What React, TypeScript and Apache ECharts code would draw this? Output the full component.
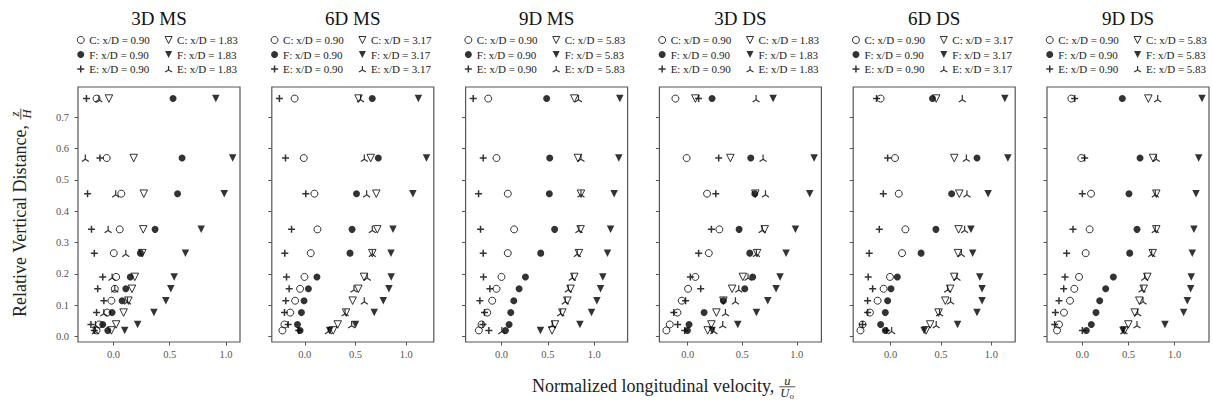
import React, { useEffect, useRef } from 'react';
import * as echarts from 'echarts';

const FONT = "'Liberation Serif', 'Times New Roman', Times, serif";

// Relative vertical distance z/H of each measurement row
const Z_H = [0.019, 0.038, 0.076, 0.114, 0.152, 0.19, 0.266, 0.342, 0.456, 0.57, 0.76];

const titles = ['3D MS', '6D MS', '9D MS', '3D DS', '6D DS', '9D DS'];
const nearStation = ['0.90', '0.90', '0.90', '0.90', '0.90', '0.90'];
const farStation = ['1.83', '3.17', '5.83', '1.83', '3.17', '5.83'];

const xTickValues = [0, 0.5, 1.0];
const yTickValues = [0, 0.1, 0.2, 0.3, 0.4, 0.5, 0.6, 0.7];
const xMin = [-0.315, -0.325, -0.387, -0.26, -0.372, -0.383];
const xMax = [1.125, 1.272, 1.36, 1.226, 1.236, 1.372];
const yMin = -0.018;
const yMax = 0.797;

// 3D MS
const ms3C_near = [-0.15, -0.127, -0.056, -0.018, 0.012, 0.024, 0.003, 0.056, 0.07, -0.06, -0.15];
const ms3F_near = [-0.05, -0.095, -0.012, 0.077, 0.11, 0.15, 0.24, 0.37, 0.57, 0.61, 0.53];
const ms3E_near = [-0.17, -0.2, -0.15, -0.085, -0.14, -0.095, -0.17, -0.195, -0.23, -0.12, -0.24];
const ms3C_far = [-0.018, 0.024, 0.09, 0.133, 0.165, 0.19, 0.257, 0.265, 0.27, 0.18, -0.04];
const ms3F_far = [0.1, 0.215, 0.36, 0.466, 0.51, 0.54, 0.64, 0.78, 0.985, 1.06, 0.91];
const ms3E_far = [-0.16, -0.16, -0.085, 0.125, 0.012, -0.012, 0.11, -0.047, 0.02, -0.25, -0.13];

// 6D MS
const ms6C_near = [-0.22, -0.2, -0.144, -0.095, -0.046, -0.003, 0.059, 0.125, 0.095, -0.01, -0.1];
const ms6F_near = [-0.046, -0.072, -0.033, -0.007, 0.036, 0.12, 0.446, 0.466, 0.51, 0.725, 0.665];
const ms6E_near = [-0.06, -0.164, -0.2, -0.187, -0.154, -0.18, -0.197, -0.13, 0.01, -0.19, -0.25];
const ms6C_far = [0.28, 0.325, 0.407, 0.472, 0.528, 0.584, 0.666, 0.715, 0.705, 0.65, 0.53];
const ms6F_far = [0.246, 0.5, 0.685, 0.774, 0.83, 0.852, 0.85, 0.87, 1.066, 1.2, 1.12];
const ms6E_far = [0.233, 0.462, 0.397, 0.587, 0.485, 0.616, 0.666, 0.666, 0.61, 0.587, 0.55];

// 9D MS
const ms9C_near = [-0.244, -0.215, -0.154, -0.1, -0.054, 0, 0.068, 0.136, 0.068, -0.054, -0.143];
const ms9F_near = [0.043, 0.082, 0.1, 0.133, 0.19, 0.258, 0.423, 0.573, 0.516, 0.52, 0.487];
const ms9E_near = [-0.136, -0.2, -0.183, -0.233, -0.125, -0.194, -0.197, -0.226, -0.247, -0.197, -0.305];
const ms9C_far = [0.545, 0.577, 0.656, 0.71, 0.745, 0.785, 0.835, 0.853, 0.857, 0.824, 0.785];
const ms9F_far = [0.42, 0.846, 0.971, 1.029, 1.068, 1.093, 1.143, 1.176, 1.215, 1.265, 1.276];
const ms9E_far = [0.004, 0.548, 0.638, 0.688, 0.72, 0.763, 0.817, 0.835, 0.857, 0.857, 0.83];

// 3D DS
const ds3C_near = [-0.196, -0.165, -0.095, -0.055, 0.003, 0.07, 0.193, 0.29, 0.177, -0.01, -0.113];
const ds3F_near = [-0.003, 0.012, 0.15, 0.327, 0.523, 0.596, 0.569, 0.471, 0.615, 0.578, 0.223];
const ds3E_near = [-0.028, -0.092, -0.128, -0.02, 0.119, 0.024, 0.1, 0.217, 0.257, 0.284, 0.1];
const ds3C_far = [0.183, 0.217, 0.263, 0.327, 0.407, 0.505, 0.636, 0.706, 0.62, 0.391, 0.07];
const ds3F_far = [0.223, 0.459, 0.63, 0.734, 0.81, 0.847, 0.902, 0.988, 1.119, 1.159, 0.783];
const ds3E_far = [0.24, 0.321, 0.346, 0.437, 0.468, 0.553, 0.63, 0.682, 0.713, 0.691, 0.627];

// 6D DS
const ds6C_near = [-0.3, -0.279, -0.206, -0.13, -0.07, -0.007, 0.113, 0.146, 0.08, 0.043, -0.1];
const ds6F_near = [-0.053, -0.1, -0.053, -0.03, 0.003, 0.066, 0.302, 0.449, 0.605, 0.857, 0.415];
const ds6E_near = [-0.04, -0.279, -0.229, -0.229, -0.179, -0.223, -0.213, -0.113, -0.073, -0.03, -0.14];
const ds6C_far = [0.352, 0.392, 0.475, 0.542, 0.591, 0.631, 0.668, 0.674, 0.681, 0.631, 0.452];
const ds6F_far = [0.332, 0.664, 0.857, 0.907, 0.907, 0.884, 0.814, 0.797, 0.967, 1.163, 1.133];
const ds6E_far = [0.01, 0.452, 0.485, 0.595, 0.565, 0.658, 0.701, 0.734, 0.757, 0.751, 0.711];

// 9D DS
const ds9C_near = [-0.274, -0.253, -0.199, -0.134, -0.087, -0.036, 0.036, 0.079, 0.094, -0.011, -0.119];
const ds9F_near = [0.043, 0.097, 0.148, 0.188, 0.253, 0.336, 0.513, 0.592, 0.505, 0.625, 0.433];
const ds9E_near = [0, -0.3, -0.292, -0.253, -0.202, -0.188, -0.17, -0.101, 0, 0.025, -0.083];
const ds9C_far = [0.458, 0.498, 0.567, 0.617, 0.664, 0.704, 0.762, 0.801, 0.801, 0.765, 0.715];
const ds9F_far = [0.44, 0.895, 1.097, 1.137, 1.173, 1.18, 1.191, 1.209, 1.231, 1.26, 1.296];
const ds9E_far = [0.45, 0.592, 0.599, 0.657, 0.646, 0.675, 0.751, 0.79, 0.79, 0.801, 0.816];

const panelData = [
  [ms3C_near, ms3F_near, ms3E_near, ms3C_far, ms3F_far, ms3E_far],
  [ms6C_near, ms6F_near, ms6E_near, ms6C_far, ms6F_far, ms6E_far],
  [ms9C_near, ms9F_near, ms9E_near, ms9C_far, ms9F_far, ms9E_far],
  [ds3C_near, ds3F_near, ds3E_near, ds3C_far, ds3F_far, ds3E_far],
  [ds6C_near, ds6F_near, ds6E_near, ds6C_far, ds6F_far, ds6E_far],
  [ds9C_near, ds9F_near, ds9E_near, ds9C_far, ds9F_far, ds9E_far],
];

const PLUS = 'path://M-1,0 L1,0 M0,-1 L0,1';
const TRI_UP = 'path://M0,0 L0,-1 M0,0 L-0.866,0.5 M0,0 L0.866,0.5';
const TRI_DOWN = 'path://M-1,-1 L1,-1 L0,1 Z';
const CLEAR = 'rgba(0,0,0,0)';

const kindStyles = [
  { symbol: 'circle', symbolSize: 7, itemStyle: { color: CLEAR, borderColor: '#000', borderWidth: 1 } },
  { symbol: 'circle', symbolSize: 7, itemStyle: { color: '#000', borderColor: '#000', borderWidth: 0 } },
  { symbol: PLUS, symbolSize: 7, itemStyle: { color: CLEAR, borderColor: '#000', borderWidth: 1.5 } },
  { symbol: TRI_DOWN, symbolSize: 7.5, itemStyle: { color: CLEAR, borderColor: '#000', borderWidth: 1 } },
  { symbol: TRI_DOWN, symbolSize: 7.5, itemStyle: { color: '#000', borderColor: '#000', borderWidth: 0 } },
  { symbol: TRI_UP, symbolSize: 7, itemStyle: { color: CLEAR, borderColor: '#000', borderWidth: 1.2 } },
];

const LETTERS = ['C', 'F', 'E', 'C', 'F', 'E'];

function seriesName(panel: number, kind: number) {
  const st = kind < 3 ? nearStation[panel] : farStation[panel];
  return `${LETTERS[kind]}: x/D = ${st}`;
}

function measure(text: string, font: string) {
  const c = document.createElement('canvas').getContext('2d');
  if (!c) return text.length * 8;
  c.font = font;
  return c.measureText(text).width;
}

function fraction(x0: number, num: string, den: string, sub: string | null, col: string) {
  const fs = 12.5;
  const denW = measure(den, `italic ${fs}px 'Liberation Serif'`) + (sub ? 5 : 0);
  const barW = Math.max(denW, 8) + 2;
  const kids: any[] = [
    {
      type: 'line',
      shape: { x1: x0, y1: 0.8, x2: x0 + barW, y2: 0.8 },
      style: { stroke: col, lineWidth: 0.8 },
      silent: true,
    },
    {
      type: 'text',
      x: x0 + barW / 2,
      y: -4.8,
      style: { text: num, fontSize: fs, fontFamily: FONT, fontStyle: 'italic', fill: col, align: 'center', verticalAlign: 'middle' },
      silent: true,
    },
    {
      type: 'text',
      x: x0 + 1,
      y: 7,
      style: { text: den, fontSize: fs, fontFamily: FONT, fontStyle: 'italic', fill: col, align: 'left', verticalAlign: 'middle' },
      silent: true,
    },
  ];
  if (sub) {
    kids.push({
      type: 'text',
      x: x0 + 1 + denW - 4.5,
      y: 10,
      style: { text: sub, fontSize: 8.5, fontFamily: FONT, fontStyle: 'italic', fill: col, align: 'left', verticalAlign: 'middle' },
      silent: true,
    });
  }
  return kids;
}

export default function App() {
  const ref = useRef<HTMLDivElement>(null);

  useEffect(() => {
    if (!ref.current) return;
    const chart = echarts.init(ref.current, undefined, { renderer: 'svg' });

    const gridLeft = (i: number) => 78 + i * 193.8;
    const gridTop = 87;
    const gridW = 162;
    const gridH = 255;

    const grids = titles.map((_, i) => ({
      left: gridLeft(i),
      top: gridTop,
      width: gridW,
      height: gridH,
      show: true,
      borderColor: '#555',
      borderWidth: 1.2,
      backgroundColor: 'transparent',
    }));

    const xAxes = titles.map((_, i) => ({
      type: 'value',
      gridIndex: i,
      min: xMin[i],
      max: xMax[i],
      axisLine: { show: false, onZero: false },
      splitLine: { show: false },
      axisTick: { show: true, length: 3.5, customValues: xTickValues, lineStyle: { color: '#555', width: 1 } },
      axisLabel: {
        show: true,
        customValues: xTickValues,
        formatter: (v: number) => v.toFixed(1),
        fontFamily: FONT,
        fontSize: 10.5,
        color: '#555',
        margin: 7,
      },
    }));

    const yAxes = titles.map((_, i) => ({
      type: 'value',
      gridIndex: i,
      min: yMin,
      max: yMax,
      axisLine: { show: false, onZero: false },
      splitLine: { show: false },
      axisTick: { show: true, length: 3.5, customValues: yTickValues, lineStyle: { color: '#555', width: 1 } },
      axisLabel: {
        show: i === 0,
        customValues: yTickValues,
        formatter: (v: number) => v.toFixed(1),
        fontFamily: FONT,
        fontSize: 10.5,
        color: '#555',
        margin: 9,
      },
    }));

    const series: any[] = [];
    panelData.forEach((arrs, i) => {
      arrs.forEach((vals, k) => {
        const st = kindStyles[k];
        series.push({
          type: 'scatter',
          name: seriesName(i, k),
          xAxisIndex: i,
          yAxisIndex: i,
          symbol: st.symbol,
          symbolSize: st.symbolSize,
          itemStyle: st.itemStyle,
          emphasis: { disabled: true },
          data: Z_H.map((z, j) => [vals[j], z]),
          z: 2 + k,
        });
      });
    });

    const legends: any[] = [];
    titles.forEach((_, i) => {
      [0, 1].forEach((col) => {
        legends.push({
          orient: 'vertical',
          left: gridLeft(i) + (col === 0 ? -1.5 : 86.5),
          top: 34,
          padding: 0,
          itemWidth: 7,
          itemHeight: 7,
          itemGap: 2.5,
          selectedMode: false,
          textStyle: { fontFamily: FONT, fontSize: 11, color: '#222', lineHeight: 12 },
          data: [0, 1, 2].map((k) => {
            const st = kindStyles[col * 3 + k];
            return {
              name: seriesName(i, col * 3 + k),
              icon: st.symbol,
              itemStyle: { ...st.itemStyle },
            };
          }),
        });
      });
    });

    const graphics: any[] = titles.map((t, i) => ({
      type: 'text',
      x: gridLeft(i) + gridW / 2,
      y: 18,
      style: { text: t, fontSize: 19, fontFamily: FONT, fill: '#111', align: 'center', verticalAlign: 'middle' },
      silent: true,
    }));

    const xLab = 'Normalized longitudinal velocity,';
    const xw = measure(xLab, "18px 'Liberation Serif'") + 5;
    graphics.push({
      type: 'group',
      x: 532,
      y: 386,
      children: [
        {
          type: 'text',
          x: 0,
          y: 0,
          style: { text: xLab, fontSize: 18, fontFamily: FONT, fill: '#222', align: 'left', verticalAlign: 'middle' },
          silent: true,
        },
        ...fraction(xw, 'u', 'U', 'o', '#222'),
      ],
    });

    const yLab = 'Relative Vertical Distance,';
    const yw = measure(yLab, "18px 'Liberation Serif'") + 5;
    graphics.push({
      type: 'group',
      x: 20,
      y: 317,
      rotation: Math.PI / 2,
      children: [
        {
          type: 'text',
          x: 0,
          y: 0,
          style: { text: yLab, fontSize: 18, fontFamily: FONT, fill: '#222', align: 'left', verticalAlign: 'middle' },
          silent: true,
        },
        ...fraction(yw, 'z', 'H', null, '#222'),
      ],
    });

    chart.setOption({
      animation: false,
      backgroundColor: '#fff',
      grid: grids,
      xAxis: xAxes,
      yAxis: yAxes,
      legend: legends,
      series,
      graphic: graphics,
    });

    return () => chart.dispose();
  }, []);

  return (
    <div
      ref={ref}
      style={{ position: 'absolute', left: 0, top: 0, width: 1213, height: 405 }}
    />
  );
}
